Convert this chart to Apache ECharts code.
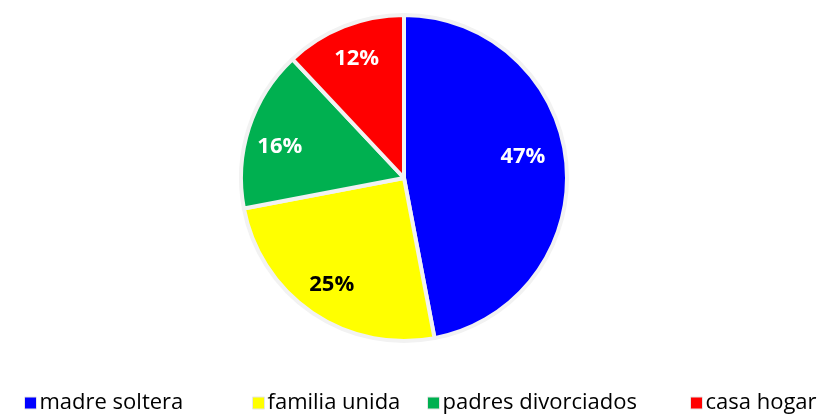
<!DOCTYPE html>
<html><head><meta charset="utf-8">
<script src="https://cdn.jsdelivr.net/npm/echarts@6/dist/echarts.min.js"></script>
<style>html,body{margin:0;padding:0;background:#fff}#c{width:823px;height:415px}</style>
</head><body><div id="c"></div>
<script>
const categories = ['madre soltera','familia unida','padres divorciados','casa hogar'];
const values = [47, 25, 16, 12];
const colors = ['#0000FF','#FFFF00','#00B050','#FF0000'];
const labelColors = ['#FFFFFF','#000000','#FFFFFF','#FFFFFF'];
const labelNudges = [[-9,-9],[0,0],[-2,8],[0,0]];
const legendLefts = [19, 247, 422, 685];

const FONT = '"Open Sans", "Noto Sans", sans-serif';
const chart = echarts.init(document.getElementById('c'), null, {renderer:'canvas'});
const data = categories.map((n,i)=>({name:n, value:values[i], itemStyle:{color:colors[i]}}));
const labelData = categories.map((n,i)=>({name:n, value:values[i],
  label:{color:labelColors[i], offset:labelNudges[i]}}));
chart.setOption({
  animation:false,
  backgroundColor:'#fff',
  legend: categories.map((n,i)=>({
    data:[n], left:legendLefts[i], top:387, icon:'rect', itemWidth:12, itemHeight:12, itemGap:0,
    itemStyle:{borderColor:'#E6E6E6', borderWidth:1},
    textStyle:{fontFamily:FONT, fontSize:22, color:'#000', padding:[0,0,0,-2]},
    selectedMode:false
  })),
  series:[
    {type:'pie', center:[404,178], radius:[0,163], startAngle:90, clockwise:true,
     data:data, label:{show:false}, labelLine:{show:false},
     itemStyle:{borderColor:'#F2F2F2', borderWidth:4}, silent:true},
    {type:'pie', center:[404,178], radius:[88,163], startAngle:90, clockwise:true,
     data:labelData, silent:true, legendHoverLink:false,
     itemStyle:{color:'rgba(0,0,0,0)', borderWidth:0},
     label:{show:true, position:'inside', formatter:p=>Math.round(p.value)+'%',
       fontFamily:FONT, fontWeight:'bold', fontSize:22},
     labelLine:{show:false}}
  ]
});
</script></body></html>
